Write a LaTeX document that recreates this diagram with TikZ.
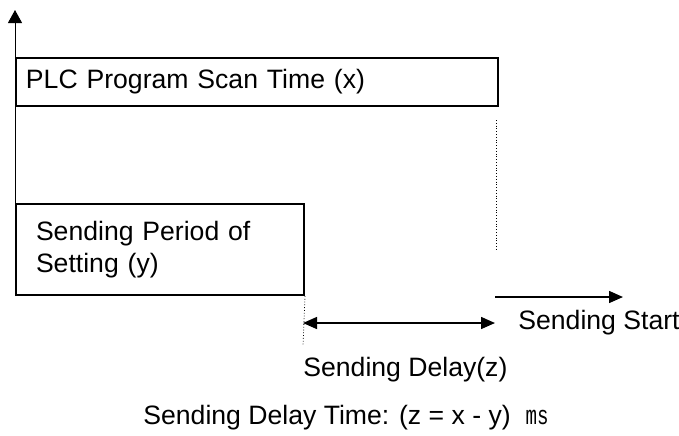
\documentclass[tikz,border=0pt]{standalone}
\usepackage{fontspec}
\setmainfont{Liberation Sans}
\setmonofont{Liberation Mono}
\usepackage{tikz}
\usetikzlibrary{arrows.meta, positioning}

\begin{document}
\begin{tikzpicture}[
  x=0.5pt, y=-0.5pt,
  font=\fontsize{13.3}{16}\selectfont,
  timebox/.style = {rectangle, draw, line width=1pt, anchor=north west,
                    align=left, inner sep=0pt},
  lbl/.style     = {inner sep=0pt, anchor=west},
  axis/.style    = {-{Triangle[length=6.5pt, width=7pt]}, line width=0.5pt},
  arrow/.style   = {-{Triangle[length=7pt, width=6pt]}, line width=0.75pt},
  darrow/.style  = {{Triangle[length=7pt, width=6pt]}-{Triangle[length=7pt, width=6pt]},
                    line width=0.75pt},
  guide/.style   = {densely dotted, line width=0.4pt},
]
\useasboundingbox (0,0) rectangle (679,435);

%% --- Boxes ---
\node[timebox, minimum width=241pt, minimum height=24pt, text width=241pt]
  (scan) at (15,57) {\hspace*{5pt}PLC Program Scan Time (x)};
\node[timebox, minimum width=144pt, minimum height=45.5pt, text width=144pt]
  (period) at (15,203) {\fontsize{13.3}{16}\selectfont\hspace*{10pt}Sending Period of\\
  \hspace*{10pt}Setting (y)};

%% --- Time axis ---
\coordinate (axtop) at (15,10);
\draw[axis] (period.south west) -- (axtop);

%% --- Guides ---
\coordinate (g1a) at (496,120);
\coordinate (g1b) at (496,249);
\coordinate (g2b) at (303,346);
\draw[guide] (g1a) -- (g1b);
\draw[guide] (period.south east) -- (g2b);

%% --- Arrows ---
\coordinate (dl) at (303,323);
\coordinate (dr) at (495,323);
\coordinate (ss) at (495,297);
\coordinate (se) at (623,297);
\draw[darrow] (dl) -- (dr);
\draw[arrow]  (ss) -- (se);

%% --- Labels ---
\node[lbl] (start) at (518,323) {Sending Start};
\node[lbl] (delay) at (303,370) {Sending Delay(z)};
\node[lbl] (formula) at (143,418) {Sending Delay Time: (z = x - y)\ \ \scalebox{0.72}[1]{\ttfamily ms}};

\end{tikzpicture}
\end{document}
